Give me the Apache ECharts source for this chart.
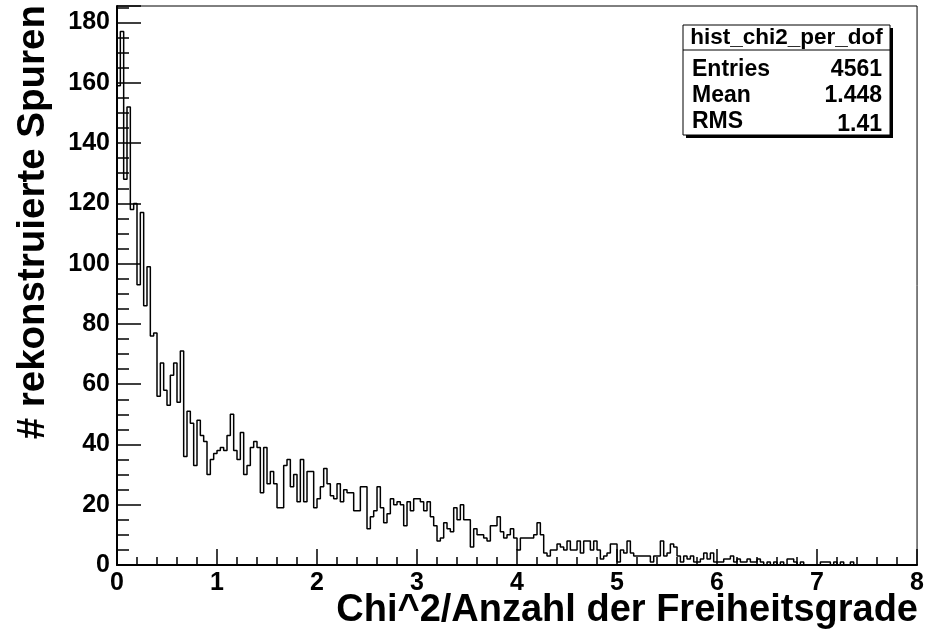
<!DOCTYPE html>
<html>
<head>
<meta charset="utf-8">
<script src="https://cdn.jsdelivr.net/npm/echarts@6/dist/echarts.min.js"></script>
<style>
html,body{margin:0;padding:0;background:#fff;}
#chart{width:927px;height:633px;}
</style>
</head>
<body>
<div id="chart"></div>
<script>
// Histogram: 240 bins from 0 to 8
const xMin = 0;
const xMax = 8;
const binCounts = [
  159,177,128,152,118,120,93,117,86,99,76,77,56,67,58,53,63,67,54,71,36,51,47,33,48,43,41,30,35,37,
  38,39,38,43,50,38,35,44,30,33,39,41,39,24,39,27,31,27,19,19,33,35,26,30,21,35,21,31,31,19,
  22,26,32,27,23,22,27,21,25,24,24,18,18,26,26,12,16,18,26,19,14,17,22,20,21,20,13,21,18,22,
  22,21,18,21,16,13,8,9,14,12,11,19,15,20,15,15,6,12,10,10,9,8,13,13,16,11,9,10,12,9,
  5,9,9,9,9,10,14,10,4,3,5,5,7,6,5,8,5,5,8,4,8,8,5,8,5,2,3,4,7,7,
  1,5,4,8,4,3,3,3,3,3,1,3,3,8,3,4,7,6,3,1,3,2,3,1,1,2,4,2,4,1,
  1,1,2,2,3,1,2,1,1,2,1,1,2,1,0,1,0,1,0,1,0,2,2,1,0,1,0,0,0,0,
  0,1,1,1,0,1,0,1,0,0,1,0,0,0,0,0,0,0,0,0,0,0,0,0,0,0,0,0,0,0
];
const yMax = 185.5;
const statsTitle = 'hist_chi2_per_dof';
const statsRows = [['Entries', '4561'], ['Mean', '1.448'], ['RMS', '1.41']];
const xTitle = 'Chi^2/Anzahl der Freiheitsgrade';
const yTitle = '# rekonstruierte Spuren';

const binWidth = (xMax - xMin) / binCounts.length;
const stepData = [[xMin, 0]];
binCounts.forEach((c, i) => stepData.push([xMin + i * binWidth, c]));
stepData.push([xMax, binCounts[binCounts.length - 1]]);
stepData.push([xMax, 0]);

const FONT = '"Liberation Sans", Arial, Helvetica, sans-serif';
const chart = echarts.init(document.getElementById('chart'), null, {renderer: 'canvas'});

const boxL = 683, boxT = 25, boxW = 207, boxH = 110;
const statsGraphics = [
  {type: 'rect', shape: {x: boxL + 3, y: boxT + 3, width: boxW, height: boxH}, style: {fill: '#000'}, z: 100},
  {type: 'rect', shape: {x: boxL, y: boxT, width: boxW, height: boxH}, style: {fill: '#fff', stroke: '#000', lineWidth: 1}, z: 101},
  {type: 'line', shape: {x1: boxL, y1: 50, x2: boxL + boxW, y2: 50}, style: {stroke: '#000', lineWidth: 1}, z: 102},
  {type: 'text', x: boxL + boxW / 2, y: 38, z: 102, style: {text: statsTitle, font: 'bold 22.5px ' + FONT, fill: '#000', textAlign: 'center', textVerticalAlign: 'middle'}}
];
const rowY = [70, 96, 122];
statsRows.forEach((r, i) => {
  statsGraphics.push({type: 'text', x: boxL + 9, y: rowY[i], z: 102, style: {text: r[0], font: 'bold 23px ' + FONT, fill: '#000', textAlign: 'left', textVerticalAlign: 'middle'}});
  statsGraphics.push({type: 'text', x: boxL + boxW - 8, y: rowY[i] + (i === 2 ? 3 : 0), z: 102, style: {text: r[1], font: 'bold 23px ' + FONT, fill: '#000', textAlign: 'right', textVerticalAlign: 'middle'}});
});

const option = {
  backgroundColor: '#fff',
  animation: false,
  grid: {left: 117, right: 7, top: 6, bottom: 68, show: true, borderColor: '#000', borderWidth: 1, backgroundColor: 'transparent'},
  xAxis: {
    type: 'value', min: xMin, max: xMax, interval: 1,
    axisLine: {show: true, onZero: false, lineStyle: {color: '#000', width: 2}},
    axisTick: {show: true, inside: true, length: 16, lineStyle: {color: '#000', width: 1.5}},
    minorTick: {show: true, splitNumber: 5, length: 8, lineStyle: {color: '#000', width: 1.5}},
    splitLine: {show: false}, minorSplitLine: {show: false},
    axisLabel: {color: '#000', fontFamily: FONT, fontWeight: 'bold', fontSize: 25, margin: 6}
  },
  yAxis: [
    {
      type: 'value', min: 0, max: yMax, interval: 20, position: 'left',
      axisLine: {show: true, onZero: false, lineStyle: {color: '#000', width: 2}},
      axisTick: {show: true, inside: true, length: 24, lineStyle: {color: '#000', width: 1.5}},
      splitLine: {show: false},
      axisLabel: {color: '#000', fontFamily: FONT, fontWeight: 'bold', fontSize: 25, margin: 7,
        formatter: v => (Math.abs(v % 20) < 1e-9 ? String(v) : '')}
    },
    {
      type: 'value', min: 0, max: yMax, interval: 5, position: 'left', offset: 0,
      axisLine: {show: false},
      axisTick: {show: true, inside: true, length: 12, lineStyle: {color: '#000', width: 1.5}},
      splitLine: {show: false},
      axisLabel: {show: false}
    }
  ],
  series: [{
    type: 'line', step: 'end', yAxisIndex: 0, data: stepData,
    symbol: 'none', silent: true,
    lineStyle: {color: '#000', width: 1.5}
  }],
  graphic: [
    {type: 'text', x: 918, y: 611, z: 50, style: {text: xTitle, font: 'bold 38px ' + FONT, fill: '#000', textAlign: 'right', textVerticalAlign: 'middle'}},
    {type: 'text', x: 33, y: 5, rotation: Math.PI / 2, z: 50, style: {text: yTitle, font: 'bold 38.5px ' + FONT, fill: '#000', textAlign: 'right', textVerticalAlign: 'middle'}}
  ].concat(statsGraphics)
};
chart.setOption(option);
</script>
</body>
</html>
